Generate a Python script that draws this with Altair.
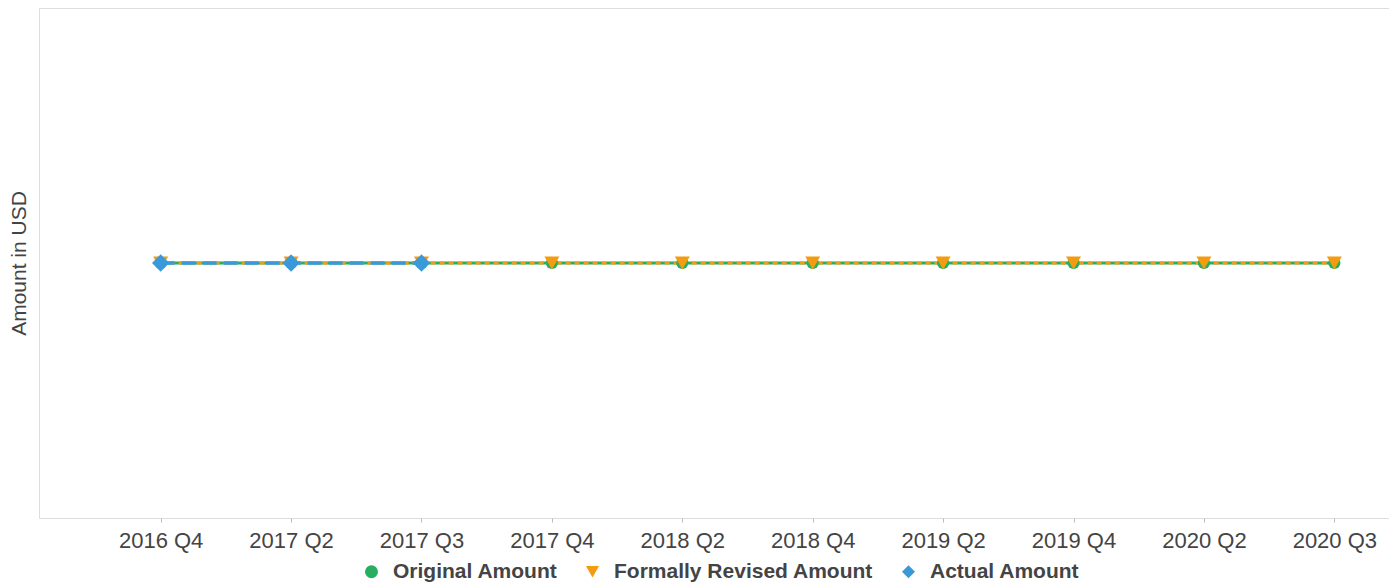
import altair as alt
import pandas as pd

quarters = ["2016 Q4", "2017 Q2", "2017 Q3", "2017 Q4", "2018 Q2",
            "2018 Q4", "2019 Q2", "2019 Q4", "2020 Q2", "2020 Q3"]
original = [0, 0, 0, 0, 0, 0, 0, 0, 0, 0]
revised = [0, 0, 0, 0, 0, 0, 0, 0, 0, 0]
actual = [0, 0, 0, None, None, None, None, None, None, None]

series_names = ["Original Amount", "Formally Revised Amount", "Actual Amount"]
series_colors = ["#27ae60", "#f39c12", "#3a9ad9"]
series_shapes = ["circle", "triangle-down", "diamond"]
series_order = [0, 1, 2]

rows = []
for name, o, vals in zip(series_names, series_order, [original, revised, actual]):
    for q, v in zip(quarters, vals):
        if v is not None:
            rows.append({"Quarter": q, "Series": name, "Amount": v, "order": o})
df = pd.DataFrame(rows)

FONT = "Liberation Sans"

x_enc = alt.X("Quarter:N", sort=quarters, title=None,
              scale=alt.Scale(type="point", padding=0.676, align=0.69),
              axis=alt.Axis(labelAngle=0, labelFontSize=22, labelColor="#444444",
                            labelFont=FONT, domain=False, ticks=True, tickSize=4,
                            tickColor="#bbbbbb", grid=False, labelPadding=8))
y_enc = alt.Y("Amount:Q", title="Amount in USD",
              scale=alt.Scale(domain=[-1, 1]),
              axis=alt.Axis(labels=False, ticks=False, domain=False, grid=False,
                            titleFontSize=21, titleFont=FONT, titleColor="#444444",
                            titleFontWeight="normal", titlePadding=10))

base = alt.Chart(df)

dashes = [[1, 0], [5, 4], [14, 7]]
widths = [3, 3, 3.5]
line_layers = []
for name, col, dash, w in zip(series_names, series_colors, dashes, widths):
    line_layers.append(
        base.transform_filter(alt.datum.Series == name)
        .mark_line(strokeWidth=w, strokeDash=dash)
        .encode(x=x_enc, y=y_enc, color=alt.value(col))
    )

points = base.mark_point(filled=True, opacity=1).encode(
    x=x_enc, y=y_enc,
    color=alt.Color("Series:N", sort=series_names,
                    scale=alt.Scale(domain=series_names, range=series_colors),
                    legend=alt.Legend(title=None, orient="none", direction="horizontal",
                                      legendX=322, legendY=553,
                                      labelFontSize=21, labelFont=FONT,
                                      labelFontWeight="bold", labelColor="#444444",
                                      labelLimit=400,
                                      symbolSize=170, labelOffset=11,
                                      columnPadding=24)),
    shape=alt.Shape("Series:N", sort=series_names,
                    scale=alt.Scale(domain=series_names, range=series_shapes)),
    size=alt.Size("order:O", scale=alt.Scale(domain=series_order, range=[150, 300, 210]),
                  legend=None),
    order=alt.Order("order:Q"),
)

chart = alt.layer(*line_layers, points).properties(
    width=1350, height=510,
    padding={"left": 0, "top": 0, "right": 0, "bottom": 0},
).configure_view(stroke="#b0b0b0", strokeWidth=1.5).configure(background="white")

chart.save("out.html", embed_options={"renderer": "svg", "actions": False})
